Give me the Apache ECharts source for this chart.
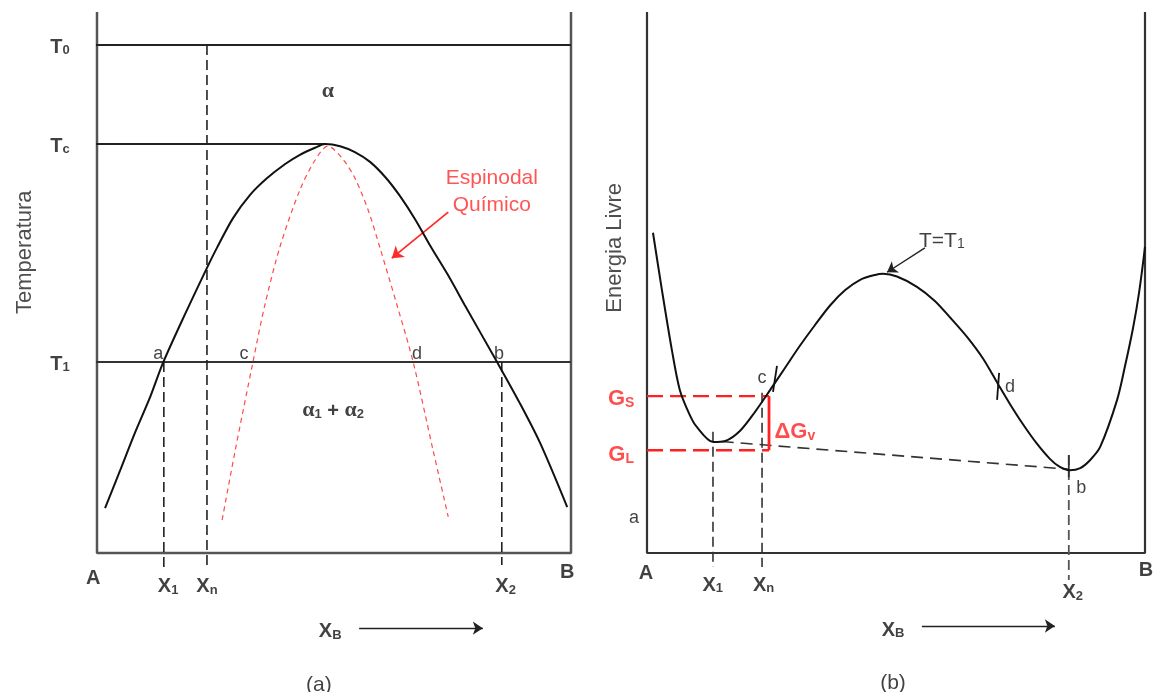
<!DOCTYPE html>
<html><head><meta charset="utf-8">
<script src="https://cdn.jsdelivr.net/npm/echarts@6/dist/echarts.min.js"></script>
<style>html,body{margin:0;padding:0;background:#fff}#c{width:1153px;height:692px}</style>
</head><body><div id="c"></div>
<script>
// ---------- Panel (a): x = X_B (0 = A, 1 = B), y = temperature (0..100) ----------
const boxA = [[0,100],[0,0],[1,0],[1,100]];
const lineT0 = [[-0.025,93.9],[1,93.9]];
const lineTc = [[-0.021,75.6],[0.481,75.6]];
const lineT1 = [[-0.023,35.3],[1,35.3]];
const dropXnA = [[0.232,93.9],[0.232,-2.4]];
const dropX1A = [[0.141,35.3],[0.141,-3.1]];
const dropX2A = [[0.854,35.3],[0.854,-2.2]];
const solvus = [[0.017,8.3],[0.049,15.3],[0.080,22.2],[0.112,28.8],[0.139,35.1],[0.186,44.2],[0.232,52.7],[0.253,56.4],[0.287,61.9],[0.323,66.2],[0.359,69.3],[0.397,71.9],[0.428,73.6],[0.460,74.9],[0.481,75.6],[0.513,75.2],[0.544,74.1],[0.576,72.3],[0.608,69.5],[0.639,66.0],[0.671,61.7],[0.703,56.8],[0.745,50.7],[0.776,45.8],[0.844,35.3],[0.892,27.7],[0.935,20.3],[0.992,8.5]];
const spinodal = [[0.264,6.1],[0.291,18.7],[0.329,35.3],[0.354,45.8],[0.386,56.6],[0.428,67.1],[0.460,72.6],[0.487,75.2],[0.517,73.0],[0.544,69.3],[0.572,63.4],[0.597,56.4],[0.633,45.8],[0.667,35.3],[0.709,19.0],[0.741,6.7]];
const arrowSpin = [[0.741,63.0],[0.622,54.5]];
const arrowXBa = [[0.553,-13.9],[0.814,-13.9]];
const labelsA = [
  [-0.078,93.9,'{k|T}{ks|0}'],[-0.078,75.6,'{k|T}{ks|c}'],[-0.078,35.3,'{k|T}{ks|1}'],
  [0.487,85.6,'{gr|α}'],[0.498,26.6,'{gr|α}{grs|1}{k| + }{gr|α}{grs|2}'],
  [0.833,69.3,'{red|Espinodal}'],[0.833,64.3,'{red|Químico}'],
  [0.129,36.8,'{sm|a}'],[0.310,36.8,'{sm|c}'],[0.675,36.8,'{sm|d}'],[0.848,36.8,'{sm|b}'],
  [-0.008,-4.3,'{k|A}'],[0.150,-5.9,'{k|X}{ks|1}'],[0.232,-5.9,'{k|X}{ks|n}'],[0.862,-5.9,'{k|X}{ks|2}'],
  [0.992,-3.3,'{k|B}'],[0.492,-14.2,'{k|X}{ks|B}'],[0.468,-24.2,'{n|(a)}']
];
const titleA = [-0.152,55.6,'Temperatura'];

// ---------- Panel (b): x = X_B, y = free energy (arbitrary 0..100) ----------
const boxB = [[0,100],[0,0],[1,0],[1,100]];
const gibbs = [[0.012,59.2],[0.030,48.6],[0.050,37.5],[0.066,30.1],[0.086,25.5],[0.100,23.3],[0.133,20.5],[0.157,20.7],[0.187,22.6],[0.217,26.1],[0.247,30.1],[0.277,34.2],[0.307,38.3],[0.337,42.1],[0.368,45.8],[0.398,48.6],[0.428,50.5],[0.458,51.4],[0.474,51.6],[0.502,51.1],[0.542,49.2],[0.578,46.6],[0.608,43.6],[0.643,39.9],[0.675,35.9],[0.705,31.2],[0.729,27.5],[0.755,23.8],[0.783,20.2],[0.809,17.4],[0.829,15.9],[0.849,15.3],[0.870,15.7],[0.890,17.2],[0.910,19.6],[0.944,28.3],[0.960,34.6],[0.976,41.6],[0.988,48.1],[1.000,56.6]];
const tangent = [[0.150,20.6],[0.845,15.5]];
const dropX1B = [[0.1325,22.4],[0.1325,-2.6]];
const dropXnB = [[0.231,29.6],[0.231,-2.6]];
const dropX2B = [[0.847,18.1],[0.847,-5.0]];
const tickC = [[0.261,34.6],[0.253,29.8]];
const tickD = [[0.707,33.3],[0.703,28.3]];
const tickB = [[0.847,18.1],[0.847,14.0]];
const lineGS = [[0,29.0],[0.245,29.0]];
const lineGL = [[0,19.0],[0.245,19.0]];
const deltaGv = [[0.245,29.0],[0.245,19.0]];
const arrowT1 = [[0.558,56.4],[0.482,51.9]];
const arrowXBb = [[0.552,-13.5],[0.819,-13.5]];
const labelsB = [
  [-0.052,28.8,'{r|G}{rs|S}'],[-0.052,18.5,'{r|G}{rs|L}'],[0.297,22.7,'{r|ΔG}{rs|v}'],
  [0.231,32.4,'{sm|c}'],[-0.026,6.5,'{sm|a}'],[0.729,30.7,'{sm|d}'],[0.872,12.0,'{sm|b}'],
  [0.592,58.0,'{n|T=T}{ns|1}'],
  [-0.002,-3.5,'{k|A}'],[0.132,-5.6,'{k|X}{ks|1}'],[0.234,-5.6,'{k|X}{ks|n}'],[0.855,-7.0,'{k|X}{ks|2}'],
  [1.002,-2.8,'{k|B}'],[0.494,-13.9,'{k|X}{ks|B}'],[0.494,-23.7,'{n|(b)}']
];
const titleB = [-0.064,56.4,'Energia Livre'];

// ---------- styles ----------
const F = 'Liberation Sans, Arial, sans-serif';
const INK = '#111';
const RED = '#ff2020';
const rich = {
  k:{fontFamily:F,fontWeight:'bold',fontSize:20,color:INK,lineHeight:24,verticalAlign:'bottom'},
  ks:{fontFamily:F,fontWeight:'bold',fontSize:13,color:INK,lineHeight:10,verticalAlign:'bottom'},
  r:{fontFamily:F,fontWeight:'bold',fontSize:22,color:RED,lineHeight:26,verticalAlign:'bottom'},
  rs:{fontFamily:F,fontWeight:'bold',fontSize:14,color:RED,lineHeight:11,verticalAlign:'bottom'},
  gr:{fontFamily:'Liberation Serif, serif',fontWeight:'bold',fontSize:22,color:INK,lineHeight:24,verticalAlign:'bottom'},
  grs:{fontFamily:F,fontWeight:'bold',fontSize:13,color:INK,lineHeight:10,verticalAlign:'bottom'},
  red:{fontFamily:F,fontSize:21,color:'#ff2a2a',lineHeight:24},
  sm:{fontFamily:F,fontSize:18,color:INK,lineHeight:20},
  n:{fontFamily:F,fontSize:21,color:INK,lineHeight:24,verticalAlign:'bottom'},
  ns:{fontFamily:F,fontSize:14,color:INK,lineHeight:11,verticalAlign:'bottom'},
  t:{fontFamily:F,fontSize:22,color:'#222',lineHeight:26}
};

function ln(g, data, color, width, type, smooth){
  return {type:'line', xAxisIndex:g, yAxisIndex:g, data:data, symbol:'none', showSymbol:false,
    smooth: smooth||false, clip:false, silent:true, animation:false,
    lineStyle:{color:color, width:width, type:type||'solid', cap:'butt'}};
}
function arrow(g, seg, color, width, size){
  return {type:'lines', coordinateSystem:'cartesian2d', xAxisIndex:g, yAxisIndex:g, clip:false,
    silent:true, animation:false, symbol:['none','arrow'], symbolSize:size,
    lineStyle:{color:color, width:width, curveness:0, opacity:1},
    itemStyle:{color:color},
    data:[{coords:seg}]};
}
function labels(g, arr, rotate){
  return {type:'scatter', xAxisIndex:g, yAxisIndex:g, clip:false, silent:true, animation:false,
    symbolSize:1, itemStyle:{color:'rgba(0,0,0,0)'},
    data: arr.map(a=>({value:[a[0],a[1]], label:{show:true, position:'inside', formatter:a[2], rotate:rotate||0,
      align:'center', verticalAlign:'middle', color:INK, textBorderWidth:0, textShadowBlur:0, rich:rich}}))};
}

const dash = [10,5];
const option = {
  animation:false,
  grid:[
    {left:97, top:12, width:474, height:541},
    {left:647, top:12, width:498, height:541}
  ],
  xAxis:[
    {type:'value', gridIndex:0, min:0, max:1, show:false},
    {type:'value', gridIndex:1, min:0, max:1, show:false}
  ],
  yAxis:[
    {type:'value', gridIndex:0, min:0, max:100, show:false},
    {type:'value', gridIndex:1, min:0, max:100, show:false}
  ],
  series:[
    ln(0, boxA, '#555', 2.5),
    ln(0, lineT0, '#222', 2),
    ln(0, lineTc, '#222', 2),
    ln(0, lineT1, '#333', 2),
    ln(0, dropXnA, '#222', 1.6, dash),
    ln(0, dropX1A, '#222', 1.6, dash),
    ln(0, dropX2A, '#222', 1.6, dash),
    ln(0, solvus, '#111', 2, 'solid', 0.3),
    ln(0, spinodal, '#ff4a4a', 1.2, [5,4], 0.3),
    arrow(0, arrowSpin, '#ff2a2a', 1.8, [9,11]),
    arrow(0, arrowXBa, '#222', 1.4, [7,10]),
    labels(0, labelsA),
    labels(0, [titleA.slice(0,2).concat(['{t|'+titleA[2]+'}'])], 90),
    ln(1, boxB, '#333', 2.2),
    ln(1, tangent, '#333', 1.6, [12,7]),
    ln(1, dropX1B, '#333', 1.6, dash),
    ln(1, dropXnB, '#333', 1.6, dash),
    ln(1, dropX2B, '#555', 1.8, dash),
    ln(1, tickC, '#111', 1.8),
    ln(1, tickD, '#111', 1.8),
    ln(1, tickB, '#333', 1.8),
    ln(1, lineGS, RED, 2.4, [16,7]),
    ln(1, lineGL, RED, 2.4, [16,7]),
    ln(1, deltaGv, RED, 2.8),
    ln(1, gibbs, '#111', 2, 'solid', 0.3),
    arrow(1, arrowT1, '#222', 1.4, [8,10]),
    arrow(1, arrowXBb, '#222', 1.4, [7,10]),
    labels(1, labelsB),
    labels(1, [titleB.slice(0,2).concat(['{t|'+titleB[2]+'}'])], 90)
  ]
};
const chart = echarts.init(document.getElementById('c'), null, {renderer:'canvas'});
chart.setOption(option);
</script></body></html>
